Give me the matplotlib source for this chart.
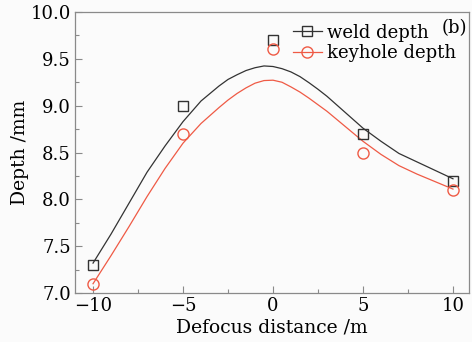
import matplotlib
matplotlib.use("Agg")
import matplotlib.pyplot as plt
from matplotlib.ticker import MultipleLocator

plt.rcParams['font.family'] = ['DejaVu Serif']
plt.rcParams['mathtext.fontset'] = 'dejavuserif'

# measured data
defocus = [-10, -5, 0, 5, 10]
weld_depth = [7.3, 9.0, 9.7, 8.7, 8.2]
keyhole_depth = [7.1, 8.7, 9.6, 8.5, 8.1]

# fitted curves
fit_x = [-10, -9, -8, -7, -6, -5, -4, -3, -2.5, -2, -1.5, -1, -0.5, 0, 0.5, 1, 1.5,
         2, 2.5, 3, 4, 5, 6, 7, 8, 9, 10]
weld_fit = [7.32, 7.63, 7.96, 8.29, 8.57, 8.83, 9.05, 9.21, 9.28, 9.33, 9.375, 9.405,
            9.424, 9.418, 9.395, 9.36, 9.31, 9.245, 9.175, 9.10, 8.93, 8.76, 8.62,
            8.49, 8.40, 8.31, 8.22]
keyhole_fit = [7.10, 7.40, 7.71, 8.03, 8.33, 8.60, 8.81, 8.98, 9.06, 9.13, 9.19, 9.24,
               9.268, 9.272, 9.25, 9.20, 9.145, 9.08, 9.01, 8.94, 8.78, 8.62, 8.48,
               8.36, 8.27, 8.19, 8.11]

red = '#ef5a45'
dark = '#333333'
gray = '#8a8a8a'

fig = plt.figure(figsize=(4.72, 3.42), dpi=100, facecolor='#fbfbfb')
ax = fig.add_axes([0.159, 0.143, 0.835, 0.822])
ax.set_facecolor('#fbfbfb')

ax.plot(fit_x, weld_fit, color=dark, lw=0.9)
ax.plot(fit_x, keyhole_fit, color=red, lw=0.9)
ax.plot(defocus, weld_depth, ls='none', marker='s', ms=7.5, mfc='none', mec=dark, mew=1.0)
ax.plot(defocus, keyhole_depth, ls='none', marker='o', ms=8, mfc='none', mec=red, mew=1.0)

# legend handles (line + marker)
h1, = ax.plot([], [], color=dark, lw=0.9, marker='s', ms=7.5, mfc='none', mec=dark, mew=1.0)
h2, = ax.plot([], [], color=red, lw=0.9, marker='o', ms=8, mfc='none', mec=red, mew=1.0)
leg = ax.legend([h1, h2], ['weld depth', 'keyhole depth'], loc='upper left',
                bbox_to_anchor=(0.53, 0.99), frameon=False, fontsize=13,
                handlelength=1.6, handletextpad=0.3, labelspacing=0.12,
                borderaxespad=0.2, borderpad=0.3)

ax.text(0.995, 0.975, '(b)', transform=ax.transAxes, ha='right', va='top', fontsize=13)

ax.set_xlim(-11, 10.9)
ax.set_ylim(7.0, 10.0)
ax.xaxis.set_major_locator(MultipleLocator(5))
ax.xaxis.set_minor_locator(MultipleLocator(2.5))
ax.yaxis.set_major_locator(MultipleLocator(0.5))
ax.yaxis.set_minor_locator(MultipleLocator(0.25))
ax.yaxis.set_major_formatter(matplotlib.ticker.FormatStrFormatter('%.1f'))

ax.tick_params(which='both', direction='in', color=gray, labelsize=13, pad=3)
ax.tick_params(which='major', length=5, width=0.8)
ax.tick_params(which='minor', length=3, width=0.8)
for s in ax.spines.values():
    s.set_color(gray)
    s.set_linewidth(0.9)

ax.set_xlabel('Defocus distance /m', fontsize=13.5, labelpad=2)
ax.set_ylabel('Depth /mm', fontsize=13.5)
ax.yaxis.set_label_coords(-0.118, 0.5)

fig.savefig('out.png', dpi=100, facecolor=fig.get_facecolor())
